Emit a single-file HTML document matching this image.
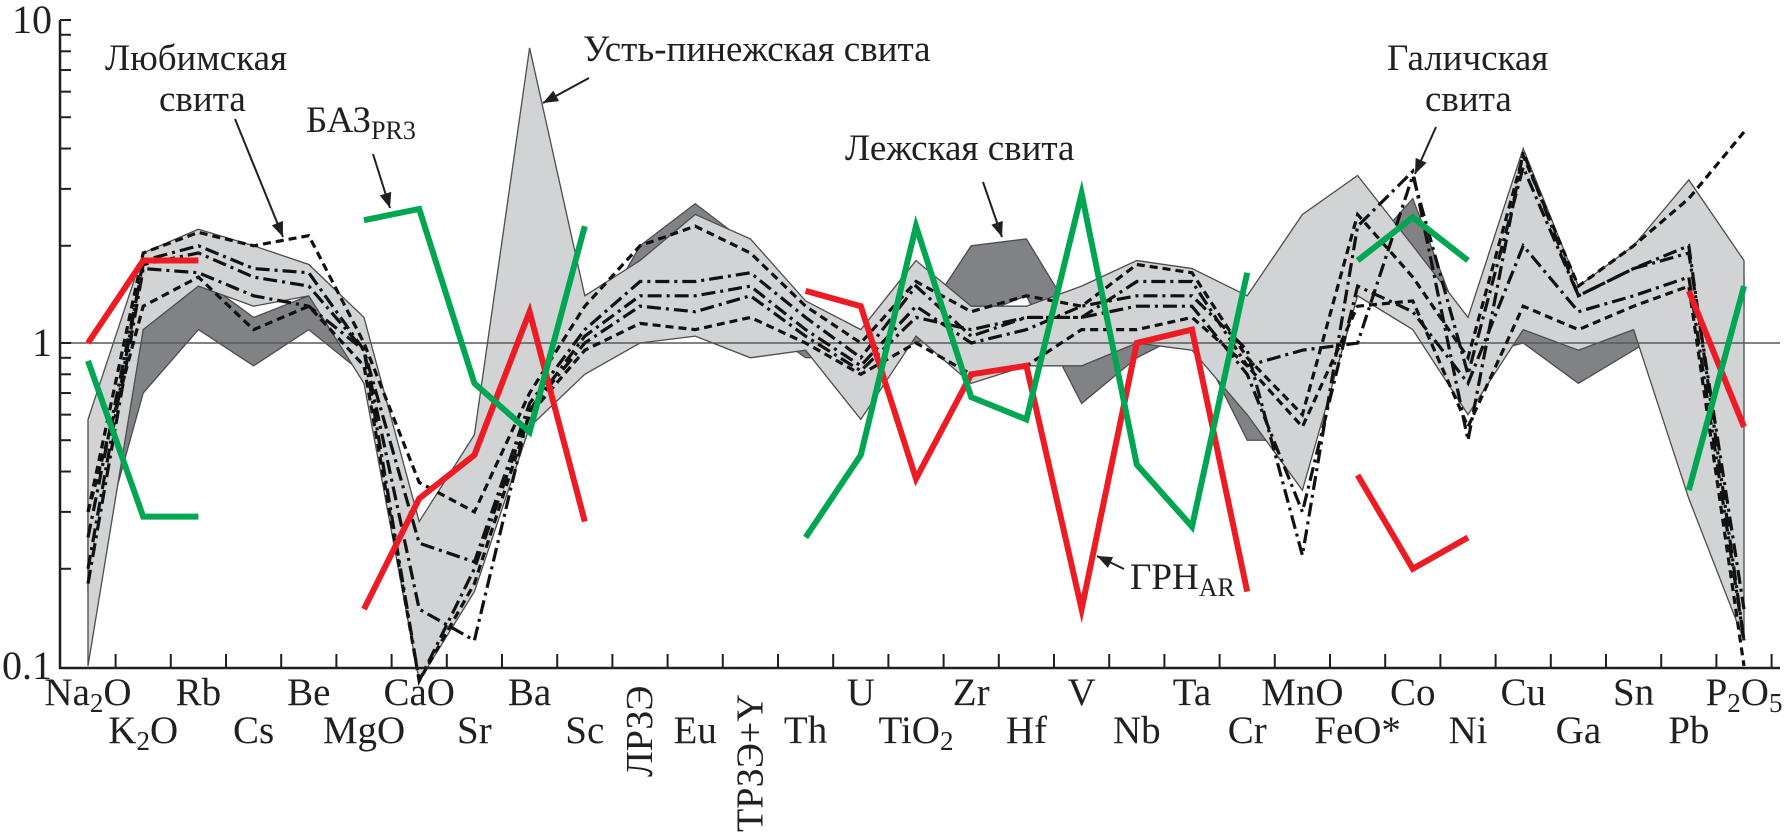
<!DOCTYPE html>
<html><head><meta charset="utf-8">
<style>
html,body{margin:0;padding:0;background:#fff;}
svg{display:block;}
svg text{font-family:"Liberation Serif","Times New Roman","DejaVu Serif",serif;fill:#231f20;}
</style></head>
<body>
<svg id="chart" width="1785" height="834" viewBox="0 0 1785 834"></svg>
<script>
const categories=["Na2O","K2O","Rb","Cs","Be","MgO","CaO","Sr","Ba","Sc","ЛРЗЭ","Eu","ТРЗЭ+Y","Th","U","TiO2","Zr","Hf","V","Nb","Ta","Cr","MnO","FeO*","Co","Ni","Cu","Ga","Sn","Pb","P2O5"];
const lightUpper=[0.58,1.9,2.25,2.0,1.75,1.2,0.28,0.52,8.2,1.4,1.8,2.5,2.1,1.35,1.1,1.8,1.3,1.3,1.5,1.8,1.7,1.4,2.5,3.3,2.0,1.2,4.0,1.5,2.0,3.2,1.8];
const lightLower=[0.1,1.1,1.5,1.3,1.4,0.75,0.09,0.17,0.55,0.8,1.0,1.05,0.9,0.95,0.58,1.05,0.75,0.85,0.85,1.0,0.95,0.6,0.35,1.4,1.1,0.6,1.1,0.95,1.1,0.33,0.12];
const darkUpper=[0.35,1.7,1.6,1.2,1.4,0.9,0.27,0.2,0.65,1.0,2.0,2.7,2.0,1.1,1.0,1.1,2.0,2.1,1.1,1.4,1.3,0.8,0.7,1.8,2.8,1.0,1.2,1.2,1.2,1.5,1.6];
const darkLower=[0.17,0.7,1.1,0.85,1.1,0.8,0.17,0.18,0.6,0.9,1.0,1.1,1.2,0.9,0.9,1.0,1.2,1.4,0.65,0.9,1.1,0.5,0.5,1.5,1.6,0.9,1.0,0.75,0.95,1.2,1.3];
const dashedA=[0.3,1.9,2.2,2.0,2.15,1.0,0.37,0.3,0.7,1.3,2.0,2.3,1.9,1.3,1.0,1.55,1.25,1.4,1.3,1.75,1.65,0.9,0.6,2.5,1.6,0.9,3.8,1.5,2.0,2.8,4.5];
const dashdotA=[0.2,1.8,2.0,1.7,1.65,0.95,0.24,0.21,0.65,1.1,1.55,1.55,1.65,1.2,0.9,1.5,1.05,1.2,1.2,1.55,1.55,0.85,0.95,1.0,3.3,0.8,3.5,1.4,1.7,1.9,0.15];
const dashdotB=[0.18,1.7,1.65,1.4,1.3,0.95,0.09,0.2,0.62,1.0,1.3,1.25,1.4,1.05,0.82,1.2,1.1,1.2,1.2,1.3,1.3,0.8,0.3,1.5,1.25,0.75,2.0,1.25,1.4,1.6,0.12];
const dashedB=[0.3,1.3,1.6,1.1,1.3,0.85,0.09,0.18,0.6,0.95,1.15,1.1,1.2,1.0,0.8,1.0,0.8,0.85,1.1,1.1,1.2,0.85,0.55,1.3,1.35,0.55,1.3,1.1,1.3,1.5,0.1];
const dashdotC=[0.25,1.75,1.9,1.6,1.5,0.95,0.15,0.12,0.62,1.05,1.4,1.4,1.5,1.1,0.85,1.3,1.0,1.1,1.3,1.4,1.4,0.95,0.22,2.3,3.4,0.5,3.9,1.4,1.7,2.0,0.12];
const redSeries=[1.0,1.8,1.8,null,null,0.15,0.33,0.45,1.25,0.28,null,null,null,1.45,1.3,0.38,0.8,0.85,0.15,1.0,1.1,0.17,null,0.39,0.2,0.25,null,null,null,1.45,0.55];
const greenSeries=[0.88,0.29,0.29,null,null,2.4,2.6,0.75,0.53,2.3,null,null,null,0.25,0.45,2.3,0.68,0.58,2.9,0.42,0.27,1.65,null,1.8,2.45,1.8,null,null,null,0.35,1.5];
const yTicks=[10,1,0.1];
const yTickLabels=["10","1","0.1"];

const NS="http://www.w3.org/2000/svg";
const svg=document.getElementById('chart');
const FONT='font-family:"Liberation Serif","Times New Roman",serif';
const X0=88, STEP=55.2, Y1=343, DEC=323, AXL=60, AXR=1780, AXB=668, AXT=20;
const xs=i=>X0+i*STEP;
const ys=v=>Y1-DEC*Math.log10(v);
function mk(tag,attrs,parent){const e=document.createElementNS(NS,tag);for(const k in attrs)e.setAttribute(k,attrs[k]);if(tag==='text')e.setAttribute('style',FONT);(parent||svg).appendChild(e);return e;}

function band(up,lo,fill,name){
  let pts=up.map((v,i)=>xs(i)+','+ys(v));
  for(let i=lo.length-1;i>=0;i--)pts.push(xs(i)+','+ys(lo[i]));
  const p=mk('polygon',{points:pts.join(' '),fill:fill,stroke:'#4d4d4f','stroke-width':1.3});
  
  
}
band(darkUpper,darkLower,'#808285','lezhskaya-band');
band(lightUpper,lightLower,'#d1d3d4','composite-band');

const ref=mk('line',{x1:AXL,x2:AXR,y1:ys(1),y2:ys(1),stroke:'#58595b','stroke-width':1.5});



function line(vals,color,w,dash,name){
  let segs=[],cur=[];
  vals.forEach((v,i)=>{if(v==null){if(cur.length)segs.push(cur);cur=[];}else cur.push(xs(i)+','+ys(v));});
  if(cur.length)segs.push(cur);
  segs.forEach(s=>{
    const a={points:s.join(' '),fill:'none',stroke:color,'stroke-width':w,'stroke-linejoin':'miter','stroke-miterlimit':10};
    if(dash)a['stroke-dasharray']=dash;
    const p=mk('polyline',a);
    
    
  });
}
line(dashedA,'#111',3.2,'8 5','dashed-line-upper');
line(dashdotA,'#111',3.2,'14 5 3 5','dashdot-line-1');
line(dashdotC,'#111',3.2,'14 5 3 5','dashdot-line-galich');
line(dashdotB,'#111',3.2,'14 5 3 5','dashdot-line-2');
line(dashedB,'#111',3.2,'8 5','dashed-line-lower');
line(redSeries,'#ed1c24',6,null,'grn-ar-series');
line(greenSeries,'#00a651',6,null,'baz-pr3-series');

const ax=mk('path',{d:`M${AXL},${AXT} V${AXB} H${AXR}`,fill:'none',stroke:'#231f20','stroke-width':2.5});


for(let d=-1;d<=0;d++){for(let m=1;m<=10;m++){const v=m*Math.pow(10,d);if(m===1&&d===-1)continue;
  const t=mk('line',{x1:AXL,x2:AXL+11,y1:ys(v),y2:ys(v),stroke:'#231f20','stroke-width':2});
  
  }}
yTicks.forEach((v,i)=>{
  const t=mk('text',{x:AXL-8,y:ys(v)+13,'text-anchor':'end','font-size':40});
  t.textContent=yTickLabels[i];
  
  
});
for(let i=0;i<categories.length;i++){
  const t=mk('line',{x1:xs(i)+STEP/2,x2:xs(i)+STEP/2,y1:AXB,y2:AXB-14,stroke:'#231f20','stroke-width':2});
  
  
}
categories.forEach((c,i)=>{
  const x=xs(i);
  let t;
  if(c==="ЛРЗЭ"||c==="ТРЗЭ+Y"){
    t=mk('text',{x:0,y:0,'font-size':38,'text-anchor':'start',transform:`translate(${x+12},${c==="ЛРЗЭ"?777:832}) rotate(-90)`});
    t.textContent=c;
  } else {
    const y=(i%2===0)?705:743;
    t=mk('text',{x:x,y:y,'font-size':39,'text-anchor':'middle'});
    const parts=c.split(/(\d)/).filter(s=>s!=='');
    parts.forEach(p=>{
      if(/^\d$/.test(p)){const s=mk('tspan',{'font-size':27,'baseline-shift':'-25%'},t);s.textContent=p;}
      else t.appendChild(document.createTextNode(p));
    });
  }
  
  
});

function txt(x,y,s,name,sub){
  const t=mk('text',{x:x,y:y,'font-size':37});
  t.appendChild(document.createTextNode(s));
  if(sub){const sp=mk('tspan',{'font-size':26,'baseline-shift':'-25%'},t);sp.textContent=sub;}
  
  
}
function arrow(x1,y1,x2,y2,name){
  const g=mk('g',{});
  
  
  mk('line',{x1:x1,y1:y1,x2:x2,y2:y2,stroke:'#231f20','stroke-width':2},g);
  const a=Math.atan2(y2-y1,x2-x1),L=15,W=6;
  const bx=x2-L*Math.cos(a),by=y2-L*Math.sin(a);
  mk('polygon',{points:`${x2},${y2} ${bx-W*Math.sin(a)},${by+W*Math.cos(a)} ${bx+W*Math.sin(a)},${by-W*Math.cos(a)}`,fill:'#231f20'},g);
}
txt(105,70,'Любимская','lyubim-label-1');
txt(159,111,'свита','lyubim-label-2');
arrow(235,119,283,237,'lyubim-arrow');
txt(306,132,'БАЗ','baz-label','PR3');
arrow(373,154,390,208,'baz-arrow');
txt(583,61,'Усть-пинежская свита','ust-pinega-label');
arrow(589,78,543,103,'ust-pinega-arrow');
txt(845,160,'Лежская свита','lezha-label');
arrow(983,182,1002,237,'lezha-arrow');
txt(1130,589,'ГРН','grn-label','AR');
arrow(1124,569,1097,556,'grn-arrow');
txt(1387,70,'Галичская','galich-label-1');
txt(1425,111,'свита','galich-label-2');
arrow(1436,127,1415,174,'galich-arrow');
</script>
</body></html>
